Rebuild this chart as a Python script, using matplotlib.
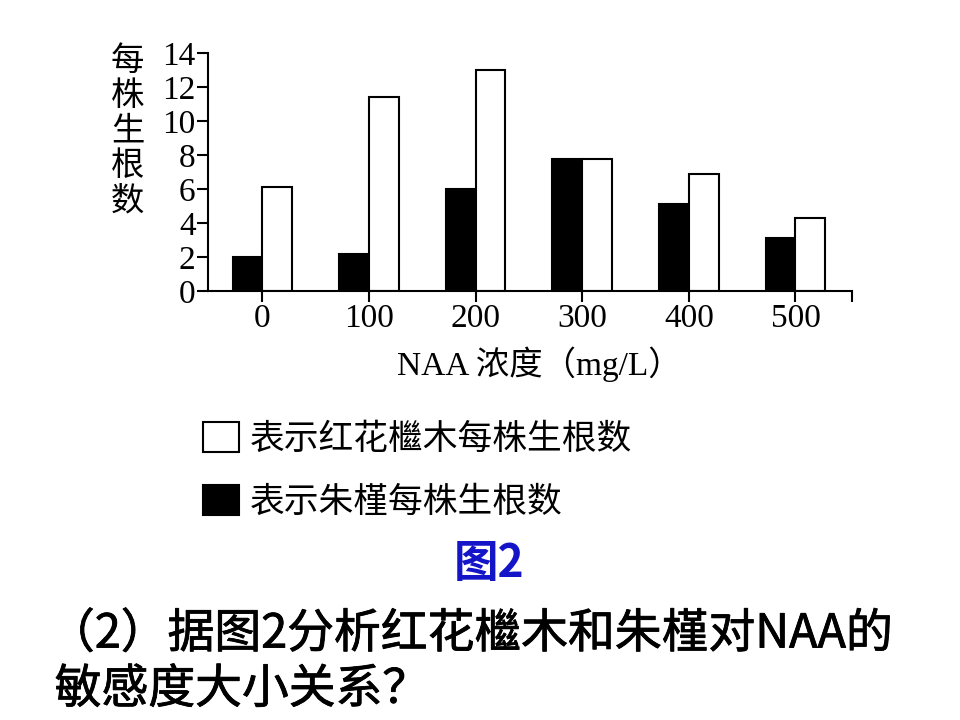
import numpy as np
import matplotlib.pyplot as plt
import matplotlib.patheffects as pe
from matplotlib.patches import Patch

# NAA concentration (mg/L) and roots per plant
conc = ["0", "100", "200", "300", "400", "500"]
zhujin = [2.0, 2.2, 6.0, 7.8, 5.1, 3.1]      # 朱槿 (black bars)
honghua = [6.1, 11.4, 13.0, 7.8, 6.9, 4.3]   # 红花檵木 (white bars)
yticks = [0, 2, 4, 6, 8, 10, 12, 14]

serif = ['Liberation Serif', 'Noto Sans CJK SC']
cjk = ['Noto Sans CJK SC', 'DejaVu Sans']

fig = plt.figure(figsize=(9.6, 7.2), dpi=100)
ax = fig.add_axes([0.2167, 0.596, 0.6708, 0.330])

x = np.arange(len(conc))
w = 0.28
ax.bar(x - w / 2, zhujin, w, color='black', edgecolor='black', linewidth=1.5)
ax.bar(x + w / 2, honghua, w, color='white', edgecolor='black', linewidth=1.5)

xmin, xmax = -0.51, 5.53
ax.set_xlim(xmin, xmax)
ax.set_ylim(0, 14)
ax.set_xticks(list(x) + [xmax], conc + [""])
ax.set_yticks(yticks, [str(v) for v in yticks])
for lab in ax.get_xticklabels() + ax.get_yticklabels():
    lab.set_fontfamily(serif)
    lab.set_fontsize(24)
ax.tick_params(direction='out', length=8, width=1.5, pad=1)
for s in ['top', 'right']:
    ax.spines[s].set_visible(False)
for s in ['left', 'bottom']:
    ax.spines[s].set_linewidth(1.5)

ax.set_xlabel("NAA 浓度（mg/L）", family=serif, fontsize=24, labelpad=9)
ax.xaxis.label.set_x(0.515)

fig.text(0.133, 0.94, "每\n株\n生\n根\n数", family=cjk, fontsize=24,
         ha='center', va='top', linespacing=1.0)

handles = [Patch(facecolor='white', edgecolor='black', linewidth=1.5),
           Patch(facecolor='black', edgecolor='black', linewidth=1.5)]
fig.legend(handles, ["表示红花檵木每株生根数", "表示朱槿每株生根数"],
           loc='upper left', bbox_to_anchor=(0.2115, 0.414), frameon=False,
           prop={'family': cjk, 'size': 25}, handlelength=1.05, handleheight=0.95,
           handletextpad=0.3, labelspacing=0.8, borderaxespad=0, borderpad=0)

fig.text(0.509, 0.217, "图2", color='#1414C8', family=cjk, fontsize=32,
         weight='bold', ha='center', va='center')

# question text: regular weight with a thin stroke to thicken it a little
thick = [pe.withStroke(linewidth=0.6, foreground='black')]
fig.text(0.05, 0.119, "（2）据图2分析红花檵木和朱槿对NAA的", family=cjk,
         fontsize=33.7, ha='left', va='center', path_effects=thick)
fig.text(0.057, 0.042, "敏感度大小关系？", family=cjk,
         fontsize=33.7, ha='left', va='center', path_effects=thick)

fig.savefig("out.png", dpi=100)
